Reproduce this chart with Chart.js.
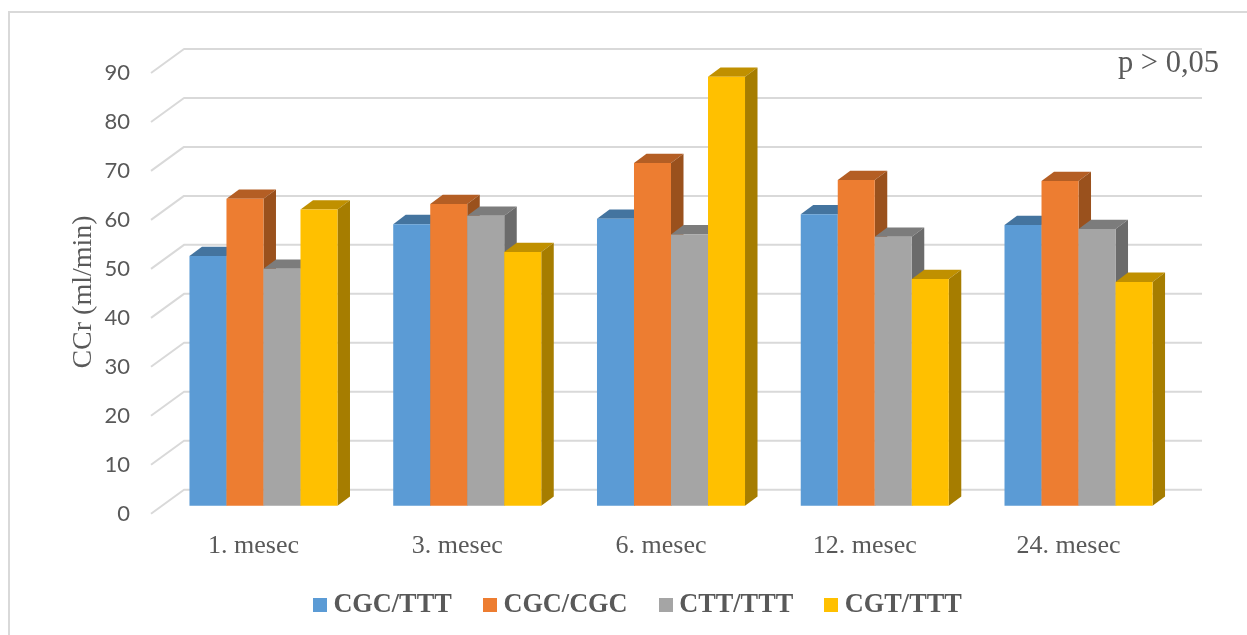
<!DOCTYPE html>
<html>
<head>
<meta charset="utf-8">
<style>html,body{margin:0;padding:0;background:#fff}#wrap{width:1247px;height:635px}</style>
<script src="https://cdn.jsdelivr.net/npm/chart.js@4"></script>
</head>
<body>
<div id="wrap"><canvas id="c" width="1247" height="635"></canvas></div>
<script>
const categories = ['1. mesec', '3. mesec', '6. mesec', '12. mesec', '24. mesec'];
const seriesNames = ['CGC/TTT', 'CGC/CGC', 'CTT/TTT', 'CGT/TTT'];
const cgcTtt = [51.0, 57.5, 58.6, 59.5, 57.3];
const cgcCgc = [62.7, 61.6, 70.0, 66.5, 66.3];
const cttTtt = [48.4, 59.2, 55.4, 54.9, 56.5];
const cgtTtt = [60.5, 51.8, 87.6, 46.3, 45.7];
const seriesColors = ['#5B9BD5', '#ED7D31', '#A5A5A5', '#FFC000'];
const topColors = ['#44749F', '#B45E24', '#7C7C7C', '#C09000'];
const sideColors = ['#3C6689', '#9A511D', '#6B6B6B', '#A67D00'];
const yTicks = [0, 10, 20, 30, 40, 50, 60, 70, 80, 90];

const GREY = '#595959', GRID = '#D9D9D9', SERIF = '"Liberation Serif", serif';
const DX = 12.5, DY = 9.3;      // bar depth
const BACK = 16, FRONT = 8;     // wall offsets from the bar plane
const WALL_L = 151, WALL_B = 184, WALL_R = 1202;

function swatch(color) {
  const s = document.createElement('canvas');
  s.width = 14; s.height = 14;
  const g = s.getContext('2d');
  g.fillStyle = color; g.fillRect(0, 0, 14, 14);
  return s;
}

const wall3d = {
  id: 'wall3d',
  afterLayout(chart) {
    // tick labels sit lower than the x axis box, so widen the box they are clipped to
    chart.scales.x.bottom += 12;
    chart.legend.top += 2.5;
  },
  beforeDraw(chart) {
    const ctx = chart.ctx;
    ctx.save();
    ctx.fillStyle = '#fff';
    ctx.fillRect(0, 0, chart.width, chart.height);
    ctx.strokeStyle = GRID; ctx.lineWidth = 2;
    ctx.beginPath();
    ctx.moveTo(9, 635); ctx.lineTo(9, 12); ctx.lineTo(1247, 12);
    ctx.stroke();
    ctx.restore();
  },
  beforeDatasetsDraw(chart) {
    const ctx = chart.ctx, y = chart.scales.y;
    ctx.save();
    ctx.strokeStyle = GRID; ctx.lineWidth = 2; ctx.lineJoin = 'round';
    yTicks.forEach(v => {
      const p = y.getPixelForValue(v);
      ctx.beginPath();
      ctx.moveTo(WALL_L, p + FRONT);
      ctx.lineTo(WALL_B, p - BACK);
      ctx.lineTo(WALL_R, p - BACK);
      ctx.stroke();
    });
    ctx.restore();
    // paint bars left to right so each one covers its neighbour's side face
    const n = chart.data.labels.length;
    for (let i = 0; i < n; i++) {
      chart.data.datasets.forEach((ds, d) => {
        const el = chart.getDatasetMeta(d).data[i];
        const l = el.x - el.width / 2, r = el.x + el.width / 2, t = el.y, b = el.base;
        ctx.save();
        ctx.fillStyle = topColors[d];
        ctx.beginPath();
        ctx.moveTo(l, t); ctx.lineTo(l + DX, t - DY); ctx.lineTo(r + DX, t - DY); ctx.lineTo(r, t);
        ctx.closePath(); ctx.fill();
        ctx.fillStyle = sideColors[d];
        ctx.beginPath();
        ctx.moveTo(r, t); ctx.lineTo(r + DX, t - DY); ctx.lineTo(r + DX, b - DY); ctx.lineTo(r, b);
        ctx.closePath(); ctx.fill();
        ctx.restore();
        el.draw(ctx);
      });
    }
    return false;
  },
  afterDraw(chart) {
    const ctx = chart.ctx;
    ctx.save();
    ctx.fillStyle = GREY;
    ctx.font = '30.5px ' + SERIF;
    ctx.textAlign = 'right'; ctx.textBaseline = 'alphabetic';
    ctx.fillText('p > 0,05', 1219, 71.5);
    ctx.translate(84, 292);
    ctx.rotate(-Math.PI / 2);
    ctx.font = '28px ' + SERIF;
    ctx.textAlign = 'center'; ctx.textBaseline = 'middle';
    ctx.fillText('CCr (ml/min)', 0, 0);
    ctx.restore();
  }
};

const seriesValues = [cgcTtt, cgcCgc, cttTtt, cgtTtt];
new Chart(document.getElementById('c'), {
  type: 'bar',
  data: {
    labels: categories,
    datasets: seriesNames.map((name, i) => ({
      label: name,
      data: seriesValues[i],
      backgroundColor: seriesColors[i],
      borderWidth: 0,
      categoryPercentage: 0.7265,
      barPercentage: 1
    }))
  },
  plugins: [wall3d],
  options: {
    responsive: false,
    animation: false,
    layout: { padding: { top: 65, left: 100.6, right: 66.6, bottom: 9.5 } },
    plugins: {
      title: { display: false },
      tooltip: { enabled: false },
      legend: {
        display: true,
        position: 'bottom',
        labels: {
          usePointStyle: true,
          pointStyleWidth: 1,
          padding: 37.5,
          color: GREY,
          font: { family: SERIF, size: 26.3, weight: 'bold' },
          generateLabels(chart) {
            return chart.data.datasets.map((ds, i) => ({
              text: ds.label,
              fontColor: GREY,
              pointStyle: swatch(seriesColors[i]),
              datasetIndex: i,
              hidden: false,
              lineWidth: 0
            }));
          }
        }
      }
    },
    scales: {
      x: {
        grid: { display: false, drawTicks: false },
        border: { display: false },
        afterFit(a) { a.height = 46; },
        ticks: {
          color: GREY,
          font: { family: SERIF, size: 26 },
          labelOffset: -10,
          padding: 25,
          autoSkip: false,
          maxRotation: 0,
          minRotation: 0
        }
      },
      y: {
        min: 0,
        max: 90,
        grid: { display: false, drawTicks: false },
        border: { display: false },
        afterFit(a) { a.width = 61; },
        afterBuildTicks(a) { a.ticks = yTicks.map(v => ({ value: v })); },
        ticks: {
          color: GREY,
          font: { family: 'Lato, sans-serif', size: 22 },
          labelOffset: 8,
          padding: 31.6
        }
      }
    }
  }
});
</script>
</body>
</html>
